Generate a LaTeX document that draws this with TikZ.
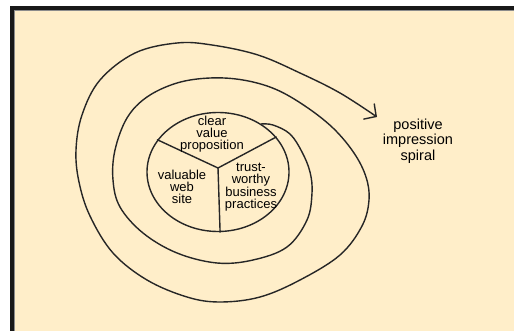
\documentclass[tikz,border=0pt]{standalone}
\usepackage{fontspec}
\setmainfont{Liberation Sans}
\usetikzlibrary{arrows.meta,shapes.geometric}
\definecolor{paper}{HTML}{FFEEC9}

\begin{document}
\begin{tikzpicture}[x=1pt,y=-1pt,>={Straight Barb[length=9pt,width=19pt]},
  ink/.style={draw=black!85,line width=1.4pt,line cap=round,line join=round},
  slice/.style={font=\fontsize{13}{11.8}\selectfont,align=center,inner sep=0pt},
  caption/.style={font=\fontsize{14.5}{15.5}\selectfont,align=center,inner sep=0pt}]
  \useasboundingbox (0,0) rectangle (514,331);
  \fill[white] (0,0) rectangle (514,331);
  \fill[black!90] (10,6) rectangle (514,331);
  \fill[black!45] (14,10) rectangle (514,331);
  \fill[paper] (15,11) rectangle (514,331);
  % the three slices
  \node[ellipse,ink,minimum width=142pt,minimum height=119pt,inner sep=0pt] (pie) at (218,172) {};
  \coordinate (hub) at (218,168);
  \draw[ink] (hub) -- (pie.152);
  \draw[ink] (hub) -- (pie.31);
  \draw[ink] (hub) -- (pie.272);
  \node[slice] (clear) at (212,134) {clear\\value\\proposition};
  \node[slice] (web) at (182,187) {valuable\\web\\site};
  \node[slice] (trust) at (251,187) {trust-\\worthy\\business\\practices};
  % spiral out of the pie
  \coordinate (tip) at (377,117);
  \draw[ink,->] plot[smooth,tension=0.6] coordinates {(pie.48) (273,125) (290,134) (302,152)
    (310,172) (312,193) (307,220) (287,247) (253,260) (217,263) (177,253) (143,233)
    (120,207) (113,180) (115,150) (127,118) (147,97) (177,83) (210,78) (243,80)
    (275,89) (305,106) (333,128) (354,153) (366,177) (369,200) (362,226) (340,255)
    (300,280) (260,297) (220,302) (187,297) (147,280) (113,253) (90,216) (79,182)
    (76,150) (82,115) (100,80) (135,53) (177,43) (212,45) (258,55) (300,73) (340,93) (tip)};
  \node[caption] (spiral) at (418,141) {positive\\impression\\spiral};
\end{tikzpicture}
\end{document}
